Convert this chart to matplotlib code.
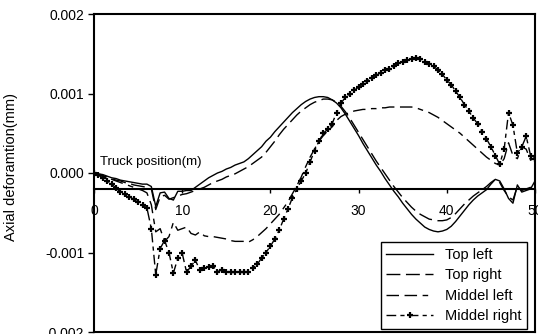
import numpy as np
import matplotlib.pyplot as plt

plt.rcParams['font.family'] = ['Liberation Sans', 'DejaVu Sans']
plt.rcParams['font.size'] = 10

# truck position along the bridge (m), one reading every 0.5 m
pos = np.arange(0, 50.25, 0.5)

top_left = [
    0.0, -0.00001, -0.00002, -0.00004, -0.00006, -0.00007, -0.00009, -0.0001, -0.00011, -0.00012,
    -0.00013, -0.00014, -0.00014, -0.00017, -0.00042, -0.00025, -0.00024, -0.00032, -0.00034, -0.00023,
    -0.00023, -0.00022, -0.00022, -0.00018, -0.00014, -0.0001, -0.00006, -0.00003, 0.0, 0.00002,
    0.00005, 0.00007, 0.0001, 0.00012, 0.00014, 0.00018, 0.00023, 0.00028, 0.00033, 0.0004,
    0.00045, 0.00052, 0.00058, 0.00064, 0.0007, 0.00076, 0.00081, 0.00086, 0.0009, 0.00093,
    0.00095, 0.00096, 0.00096, 0.00095, 0.00092, 0.00088, 0.00082, 0.00074, 0.00065, 0.00056,
    0.00047, 0.00037, 0.00028, 0.00019, 0.0001, 0.00002, -0.00007, -0.00015, -0.00023, -0.0003,
    -0.00038, -0.00045, -0.00052, -0.00058, -0.00063, -0.00068, -0.00071, -0.00073, -0.00074, -0.00073,
    -0.00071, -0.00067, -0.00061, -0.00054, -0.00047, -0.0004, -0.00034, -0.00029, -0.00025, -0.00021,
    -0.00014, -0.00008, -0.0001, -0.0002, -0.00032, -0.00038, -0.00015, -0.00024, -0.00022, -0.0002,
    -0.0001]

top_right = [
    0.0, -0.00002, -0.00004, -0.00005, -0.00007, -0.00009, -0.0001, -0.00012, -0.00013, -0.00015,
    -0.00016, -0.00017, -0.00018, -0.0002, -0.00046, -0.0003, -0.00028, -0.00033, -0.00031, -0.00029,
    -0.00027, -0.00026, -0.00024, -0.00022, -0.0002, -0.00018, -0.00015, -0.00012, -0.0001, -0.00008,
    -0.00005, -0.00003, -0.00001, 0.00002, 0.00005, 0.00008, 0.00012, 0.00016, 0.0002, 0.00026,
    0.00033, 0.0004, 0.00048, 0.00055, 0.00061, 0.00067, 0.00073, 0.00078, 0.00082, 0.00086,
    0.00089, 0.00091, 0.00093, 0.00093, 0.00092, 0.00089, 0.00084, 0.00077, 0.00069, 0.0006,
    0.00051, 0.00042, 0.00033, 0.00024, 0.00015, 0.00007, -0.00001, -0.00009, -0.00017, -0.00024,
    -0.00031, -0.00037, -0.00043, -0.00048, -0.00052, -0.00055, -0.00058, -0.00059, -0.0006, -0.0006,
    -0.00059, -0.00056, -0.00051, -0.00045, -0.00039, -0.00034, -0.00029, -0.00025, -0.00021, -0.00017,
    -0.00012, -0.00008, -0.00012, -0.00022, -0.0003, -0.00034, -0.00017, -0.00022, -0.0002, -0.00018,
    -0.00012]

middle_left = [
    0.0, -0.00002, -0.00004, -0.00006, -0.00008, -0.0001, -0.00012, -0.00014, -0.00016, -0.00018,
    -0.0002, -0.00022, -0.00025, -0.0004, -0.00074, -0.0007, -0.00086, -0.0008, -0.00062, -0.00072,
    -0.0007, -0.00068, -0.00076, -0.00078, -0.00074, -0.00079, -0.0008, -0.0008, -0.00081, -0.00082,
    -0.00083, -0.00085, -0.00086, -0.00086, -0.00086, -0.00087, -0.00084, -0.0008, -0.00075, -0.0007,
    -0.00064, -0.00058, -0.00052, -0.00044, -0.00036, -0.00026, -0.00016, -0.00005, 0.00008, 0.0002,
    0.0003, 0.0004, 0.00047, 0.00053, 0.00058, 0.00066, 0.00071, 0.00074, 0.00076, 0.00078,
    0.00079, 0.0008, 0.0008, 0.00081, 0.00081, 0.00082, 0.00082, 0.00083, 0.00083, 0.00083,
    0.00083, 0.00083, 0.00083, 0.00082, 0.0008, 0.00078, 0.00076, 0.00073, 0.0007, 0.00066,
    0.00062, 0.00058, 0.00054, 0.0005, 0.00045, 0.0004, 0.00035, 0.0003, 0.00025, 0.0002,
    0.00016, 0.00012, 0.0001, 0.00018, 0.00038, 0.00022, 0.00018, 0.00033, 0.0003, 0.00016,
    0.0002]

middle_right = [
    0.0, -0.00003, -0.00006, -0.0001, -0.00014, -0.00019, -0.00024, -0.00027, -0.0003, -0.00033,
    -0.00037, -0.0004, -0.00044, -0.0007, -0.00128, -0.00095, -0.00085, -0.001, -0.00126, -0.00107,
    -0.00101, -0.00125, -0.00117, -0.0011, -0.00122, -0.0012, -0.00118, -0.00117, -0.00124, -0.00122,
    -0.00124, -0.00125, -0.00125, -0.00125, -0.00125, -0.00124, -0.0012, -0.00115, -0.00107, -0.001,
    -0.00092, -0.00083, -0.00072, -0.00058, -0.00045, -0.00031, -0.0002, -0.0001, 0.0, 0.00014,
    0.00028, 0.0004, 0.0005, 0.00055, 0.00062, 0.00076, 0.00088, 0.00095, 0.001, 0.00104,
    0.00108, 0.00112, 0.00116, 0.0012, 0.00123, 0.00126, 0.00129, 0.00131, 0.00135, 0.00138,
    0.0014, 0.00142, 0.00144, 0.00145, 0.00143, 0.0014, 0.00137, 0.00134, 0.0013, 0.00124,
    0.00117, 0.00111, 0.00103, 0.00095, 0.00086, 0.00078, 0.00069, 0.00062, 0.00052, 0.00043,
    0.00033, 0.00022, 0.00011, 0.0003, 0.00076, 0.0006, 0.00025, 0.00033, 0.00046, 0.00022,
    0.00018]

fig = plt.figure(figsize=(5.38, 3.34), dpi=100)
ax = fig.add_axes([94/538, 2/334, 441/538, 318/334])

ax.plot(pos, top_left, color='black', lw=1.0, label='Top left')
ax.plot(pos, top_right, color='black', lw=1.0, dashes=(10, 4), label='Top right')
ax.plot(pos, middle_left, color='black', lw=1.0, dashes=(9, 4, 9, 4, 4, 4), label='Middel left')
ax.plot(pos, middle_right, color='black', lw=1.0, dashes=(7, 3, 3, 3),
        marker='+', ms=5, mew=1.6, label='Middel right')

ax.set_xlim(0, 50)
ax.set_ylim(-0.002, 0.002)
ax.set_xticks([0, 10, 20, 30, 40, 50])
ax.set_yticks([-0.002, -0.001, 0.0, 0.001, 0.002])
ax.yaxis.set_major_formatter(plt.FormatStrFormatter('%.3f'))

# horizontal axis crosses the vertical one below zero
ax.spines['bottom'].set_position(('data', -0.0002))
for s in ax.spines.values():
    s.set_linewidth(1.5)
ax.plot([0, 1], [0, 0], transform=ax.transAxes, color='black', lw=1.5, clip_on=False)
ax.tick_params(axis='x', direction='out', length=3, width=1, pad=8)
ax.tick_params(axis='y', direction='out', length=4, width=1, pad=3)

ax.text(0.7, 0.000137, 'Truck position(m)', va='center', ha='left', fontsize=9.5)
ax.set_ylabel('Axial deforamtion(mm)', fontsize=10.5)
ax.yaxis.set_label_coords(-0.172, 0.52)

leg = ax.legend(loc='lower right', bbox_to_anchor=(0.982, 0.009), borderaxespad=0,
                fancybox=False, edgecolor='black', framealpha=1, handlelength=3.2,
                handletextpad=0.8, labelspacing=0.45, fontsize=10.5)
leg.get_frame().set_linewidth(1.0)

fig.savefig('out.png', dpi=100)
